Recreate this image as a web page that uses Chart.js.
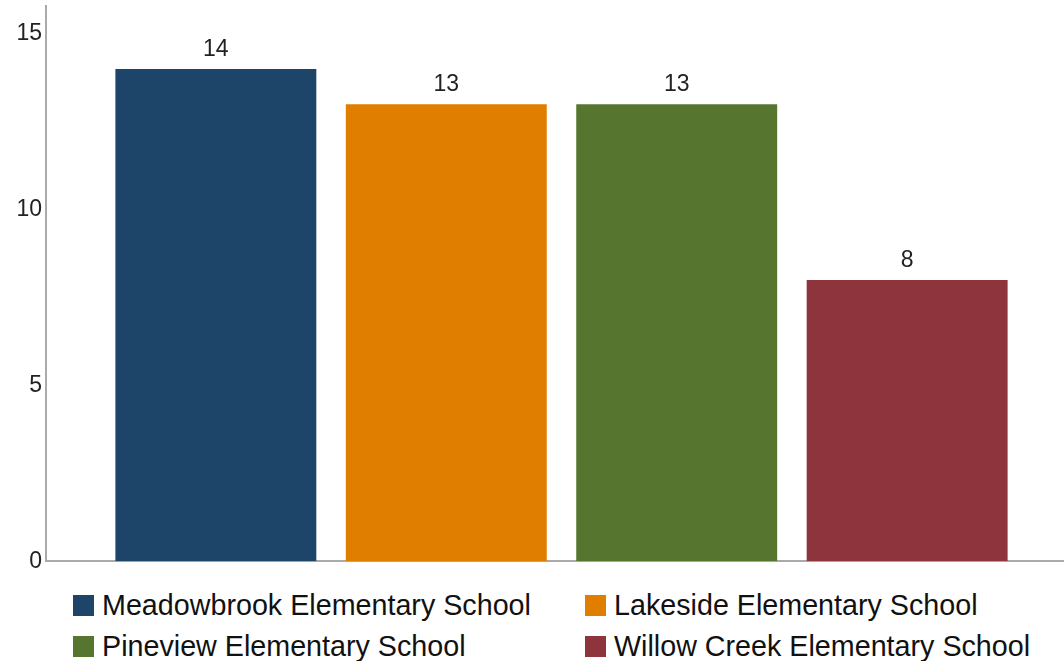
<!DOCTYPE html>
<html>
<head>
<meta charset="utf-8">
<script src="https://cdn.jsdelivr.net/npm/chart.js@4"></script>
<style>
  html, body { margin: 0; padding: 0; background: #fff; }
  body { width: 1064px; height: 661px; position: relative; overflow: hidden; font-family: "Liberation Sans", Arial, sans-serif; }
  #wrap { position: absolute; left: 0; top: -12px; width: 1077px; height: 591px; }
  #legend { position: absolute; left: 0; top: 588px; width: 1064px; height: 73px; }
  .item { position: absolute; display: flex; align-items: center; font-size: 28.7px; color: #111; white-space: nowrap; line-height: 1; }
  .box { width: 21px; height: 21px; margin-right: 8px; flex: none; }
</style>
</head>
<body>
<div id="wrap"><canvas id="c"></canvas></div>
<div id="legend"></div>
<script>
const categories = [""];
const schools = ["Meadowbrook Elementary School", "Lakeside Elementary School", "Pineview Elementary School", "Willow Creek Elementary School"];
const values = [14, 13, 13, 8];
const colors = ["#1d4569", "#e07e00", "#56762f", "#8e343c"];
const yTicks = [0, 5, 10, 15];

const datasets = schools.map((s, i) => ({
  label: s,
  data: [values[i]],
  backgroundColor: colors[i],
  borderWidth: 0
}));

const valueLabels = {
  id: 'valueLabels',
  afterDatasetsDraw(chart) {
    const ctx = chart.ctx;
    ctx.save();
    ctx.font = '23px "Liberation Sans", Arial, sans-serif';
    ctx.fillStyle = '#222';
    ctx.textAlign = 'center';
    ctx.textBaseline = 'bottom';
    chart.data.datasets.forEach((ds, i) => {
      chart.getDatasetMeta(i).data.forEach((bar, j) => {
        ctx.fillText(String(ds.data[j]), bar.x, bar.y - 8);
      });
    });
    ctx.restore();
  }
};

new Chart(document.getElementById('c'), {
  type: 'bar',
  data: { labels: categories, datasets },
  options: {
    responsive: true,
    maintainAspectRatio: false,
    animation: false,
    layout: { padding: { top: 5, bottom: 1, left: 0, right: 0 } },
    plugins: { legend: { display: false }, tooltip: { enabled: false } },
    datasets: { bar: { categoryPercentage: 0.894, barPercentage: 0.872 } },
    scales: {
      x: {
        grid: { display: false },
        border: { display: true, color: '#aaaaaa', width: 2 },
        ticks: { display: false },
        afterFit(s) { s.height = 0; }
      },
      y: {
        min: 0,
        max: 15.8,
        grid: { display: false, drawTicks: false, tickLength: 0 },
        border: { display: true, color: '#aaaaaa', width: 2 },
        afterBuildTicks(s) { s.ticks = yTicks.map(v => ({ value: v })); },
        ticks: {
          color: '#222',
          padding: 4,
          font: { size: 23, family: '"Liberation Sans", Arial, sans-serif' }
        },
        afterFit(s) { s.width = 46; }
      }
    }
  },
  plugins: [valueLabels]
});

const legend = document.getElementById('legend');
const colX = [73, 585];
const rowY = [3, 44];
schools.forEach((s, i) => {
  const d = document.createElement('div');
  d.className = 'item';
  d.style.left = colX[i % 2] + 'px';
  d.style.top = rowY[Math.floor(i / 2)] + 'px';
  const b = document.createElement('span');
  b.className = 'box';
  b.style.background = colors[i];
  const t = document.createElement('span');
  t.textContent = s;
  d.appendChild(b); d.appendChild(t);
  legend.appendChild(d);
});
</script>
</body>
</html>
